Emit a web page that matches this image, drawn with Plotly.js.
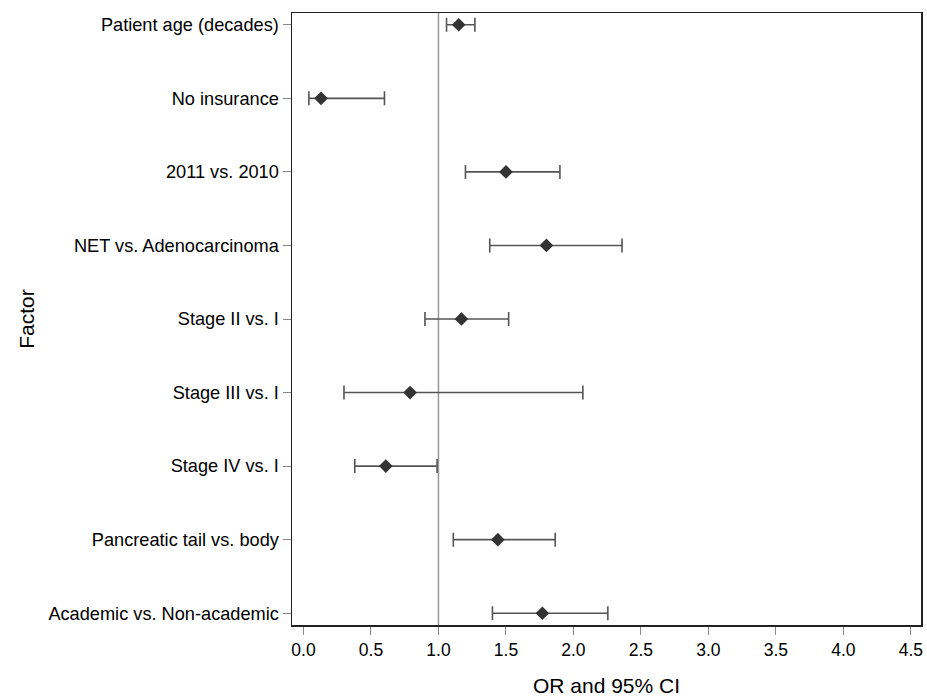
<!DOCTYPE html>
<html>
<head>
<meta charset="utf-8">
<script src="https://cdn.plot.ly/plotly-3.0.1.min.js"></script>
<style>html,body{margin:0;padding:0;background:#fff;}#chart{width:927px;height:697px;}</style>
</head>
<body>
<div id="chart"></div>
<script>
const factors = [
  "Patient age (decades)",
  "No insurance",
  "2011 vs. 2010",
  "NET vs. Adenocarcinoma",
  "Stage II vs. I",
  "Stage III vs. I",
  "Stage IV vs. I",
  "Pancreatic tail vs. body",
  "Academic vs. Non-academic"
];
const oddsRatio = [1.15, 0.13, 1.50, 1.80, 1.17, 0.79, 0.61, 1.44, 1.77];
const ciLower   = [1.06, 0.04, 1.20, 1.38, 0.90, 0.30, 0.38, 1.11, 1.40];
const ciUpper   = [1.27, 0.60, 1.90, 2.36, 1.52, 2.07, 0.99, 1.865, 2.255];
const xTickVals = [0, 0.5, 1, 1.5, 2, 2.5, 3, 3.5, 4, 4.5];
const xTickText = ["0.0","0.5","1.0","1.5","2.0","2.5","3.0","3.5","4.0","4.5"];
const referenceOR = 1;

const plus = ciUpper.map((u, i) => u - oddsRatio[i]);
const minus = oddsRatio.map((v, i) => v - ciLower[i]);

const font = "Liberation Sans, Arial, Helvetica, sans-serif";

const trace = {
  type: "scatter",
  mode: "markers",
  x: oddsRatio,
  y: factors,
  marker: { symbol: "diamond", size: 10.5, color: "#333333" },
  error_x: {
    type: "data", symmetric: false, array: plus, arrayminus: minus,
    color: "#555555", thickness: 1.6, width: 7
  },
  hoverinfo: "x+y",
  showlegend: false
};

const layout = {
  width: 927, height: 697,
  margin: { l: 292, r: 6, t: 13, b: 72 },
  paper_bgcolor: "#ffffff",
  plot_bgcolor: "#ffffff",
  font: { family: font, color: "#000000" },
  xaxis: {
    range: [-0.085, 4.575],
    tickvals: xTickVals, ticktext: xTickText,
    ticks: "outside", ticklen: 8, tickcolor: "#888888", tickwidth: 1,
    tickfont: { size: 17.5, family: font, color: "#000000" },
    showgrid: false, zeroline: false,
    showline: true, mirror: true, linecolor: "#222222", linewidth: 1.5,
    title: { text: "OR and 95% CI", font: { size: 21, family: font, color: "#000000" }, standoff: 20 }
  },
  yaxis: {
    type: "category",
    categoryorder: "array", categoryarray: factors,
    range: [8.16, -0.16],
    ticks: "outside", ticklen: 8, tickcolor: "#888888", tickwidth: 1,
    tickfont: { size: 18.2, family: font, color: "#000000" },
    showgrid: false, zeroline: false,
    showline: true, mirror: true, linecolor: "#222222", linewidth: 1.5,
    title: { text: "Factor", font: { size: 21, family: font, color: "#000000" }, standoff: 8 }
  },
  shapes: [{
    type: "line", xref: "x", yref: "paper",
    x0: referenceOR, x1: referenceOR, y0: 0, y1: 1,
    line: { color: "#999999", width: 1.5 }, layer: "below"
  }]
};

Plotly.newPlot("chart", [trace], layout, { displayModeBar: false, staticPlot: true });
</script>
</body>
</html>
